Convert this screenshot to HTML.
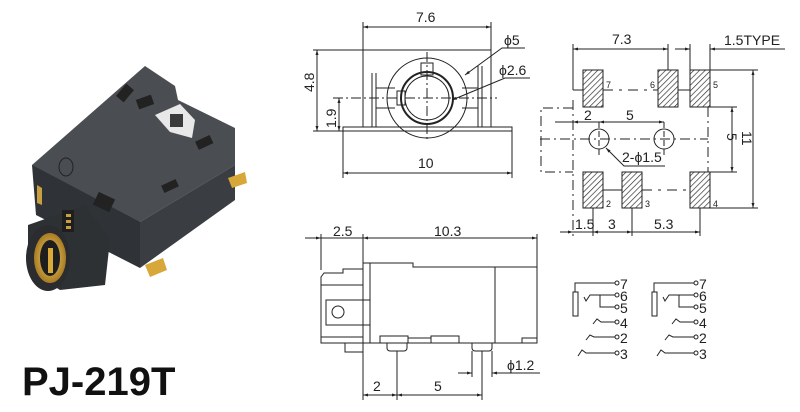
<!DOCTYPE html>
<html><head><meta charset="utf-8"><style>
html,body{margin:0;padding:0;background:#fff;width:800px;height:412px;overflow:hidden}
svg{display:block}
text{font-family:"Liberation Sans",sans-serif;fill:#222}
</style></head><body>
<svg width="800" height="412" viewBox="0 0 800 412" xmlns="http://www.w3.org/2000/svg">
<defs>
<marker id="a" viewBox="0 0 10 10" refX="10" refY="5" markerWidth="7" markerHeight="5" orient="auto-start-reverse"><path d="M0,2 L10,5 L0,8 z" fill="#222"/></marker>
<pattern id="h" width="4" height="4" patternUnits="userSpaceOnUse" patternTransform="rotate(45)"><rect width="4" height="4" fill="#fff"/><line x1="0" y1="0" x2="0" y2="4" stroke="#333" stroke-width="1.4"/></pattern>
<radialGradient id="g" cx="0.5" cy="0.5" r="0.6"><stop offset="0" stop-color="#f3d27a"/><stop offset="1" stop-color="#9a6a10"/></radialGradient>
</defs>

<!-- PHOTO -->
<g>
<polygon points="32,165 145,66 175,86 178,100 235,128 235,165 140,222 45,205" fill="#4a4d52"/>
<polygon points="32,165 140,222 140,268 36,215" fill="#2f3236"/>
<polygon points="140,222 235,165 235,200 140,268" fill="#3a3d41"/>
<polygon points="155,115 180,104 195,120 192,138 170,132" fill="#e8e8e8"/>
<rect x="170" y="114" width="13" height="13" fill="#3a3a3a"/>
<rect x="120" y="85" width="10" height="16" fill="#222" transform="rotate(40 125 93)"/>
<rect x="137" y="97" width="16" height="10" fill="#222" transform="rotate(-20 145 102)"/>
<rect x="196" y="138" width="16" height="9" fill="#222" transform="rotate(-25 204 142)"/>
<rect x="162" y="182" width="16" height="8" fill="#222" transform="rotate(-25 170 186)"/>
<rect x="95" y="195" width="18" height="14" fill="#222" transform="rotate(25 104 202)"/>
<ellipse cx="66" cy="167" rx="7" ry="9" fill="none" stroke="#222"/>
<polygon points="28,225 85,205 110,240 105,285 60,290 28,270" fill="#2e3134"/>
<ellipse cx="48" cy="258" rx="22" ry="33" fill="#2a2c2f"/>
<ellipse cx="50" cy="258" rx="16" ry="25" fill="url(#g)"/>
<ellipse cx="50" cy="258" rx="10" ry="18" fill="#1e1e1e"/>
<rect x="48" y="248" width="5" height="25" fill="#d9a93a"/>
<rect x="62" y="210" width="12" height="22" fill="#1e1e1e"/>
<rect x="66" y="214" width="5" height="3" fill="#c9a040"/><rect x="66" y="220" width="5" height="3" fill="#c9a040"/><rect x="66" y="226" width="5" height="3" fill="#c9a040"/>
<polygon points="228,178 245,172 247,183 232,188" fill="#d8a73a"/>
<polygon points="145,265 163,258 167,270 150,277" fill="#d8a73a"/>
<polygon points="37,185 42,188 42,205 37,203" fill="#c9a040"/>
</g>
<text x="22" y="395" font-size="40" font-weight="bold" fill="#111" style="fill:#111">PJ-219T</text>

<g stroke="#222" stroke-width="1" fill="none">
<!-- FRONT VIEW -->
<line x1="363" y1="22" x2="363" y2="50"/><line x1="491" y1="22" x2="491" y2="50"/>
<line x1="363" y1="27" x2="491" y2="27" marker-start="url(#a)" marker-end="url(#a)"/>
<rect x="363" y="50" width="128" height="77"/>
<rect x="343" y="127" width="169" height="4"/>
<line x1="372" y1="73" x2="372" y2="127"/><line x1="376" y1="73" x2="376" y2="127"/>
<line x1="482" y1="66" x2="482" y2="127"/><line x1="478" y1="66" x2="478" y2="127"/>
<line x1="376" y1="88" x2="395" y2="88"/><line x1="376" y1="108" x2="395" y2="108"/>
<line x1="462" y1="88" x2="478" y2="88"/><line x1="462" y1="108" x2="478" y2="108"/>
<circle cx="427" cy="98" r="40"/>
<circle cx="427" cy="98" r="26" stroke-width="2"/>
<circle cx="427" cy="98" r="22"/>
<rect x="397" y="91" width="8" height="14"/>
<rect x="421" y="63" width="12" height="12"/>
<line x1="333" y1="98" x2="497" y2="98" stroke-dasharray="10,3,2,3"/>
<line x1="427" y1="52" x2="427" y2="140" stroke-dasharray="10,3,2,3"/>
<line x1="313" y1="50" x2="363" y2="50"/><line x1="313" y1="131" x2="343" y2="131"/>
<line x1="317" y1="50" x2="317" y2="131" marker-start="url(#a)" marker-end="url(#a)"/>
<line x1="339" y1="98" x2="339" y2="131" marker-start="url(#a)" marker-end="url(#a)"/>
<line x1="343" y1="131" x2="343" y2="178"/><line x1="512" y1="131" x2="512" y2="178"/>
<line x1="343" y1="173" x2="512" y2="173" marker-start="url(#a)" marker-end="url(#a)"/>
<polyline points="465,75 502,48 525,48" marker-start="url(#a)"/>
<polyline points="452,100 505,78 530,78" marker-start="url(#a)"/>

<!-- TOP VIEW -->
<rect x="583" y="70" width="20" height="37" fill="url(#h)"/>
<rect x="658" y="70" width="20" height="37" fill="url(#h)"/>
<rect x="690" y="70" width="20" height="37" fill="url(#h)"/>
<rect x="583" y="172" width="20" height="36" fill="url(#h)"/>
<rect x="622" y="172" width="20" height="36" fill="url(#h)"/>
<rect x="690" y="172" width="20" height="36" fill="url(#h)"/>
<line x1="573" y1="90" x2="583" y2="90"/><line x1="603" y1="90" x2="658" y2="90" stroke-dasharray="10,6,3,6"/><line x1="678" y1="90" x2="690" y2="90"/>
<line x1="603" y1="190" x2="622" y2="190"/><line x1="642" y1="190" x2="690" y2="190" stroke-dasharray="10,6,3,6"/>
<circle cx="599" cy="139" r="10"/><circle cx="664" cy="139" r="10"/>
<line x1="540" y1="139" x2="708" y2="139" stroke-dasharray="10,4,2,4"/>
<line x1="599" y1="122" x2="599" y2="157" stroke-dasharray="6,3"/><line x1="664" y1="122" x2="664" y2="157" stroke-dasharray="6,3"/>
<polyline points="573,108 541,108 541,172 573,172" stroke-dasharray="10,4,2,4"/>
<line x1="573" y1="100" x2="573" y2="236" stroke-dasharray="10,4,2,4"/>
<line x1="708" y1="107" x2="708" y2="172" stroke-dasharray="10,4,2,4"/>
<line x1="573" y1="44" x2="573" y2="90"/><line x1="668" y1="44" x2="668" y2="70"/>
<line x1="573" y1="49" x2="668" y2="49" marker-start="url(#a)" marker-end="url(#a)"/>
<line x1="690" y1="44" x2="690" y2="70"/><line x1="710" y1="44" x2="710" y2="70"/>
<line x1="675" y1="49" x2="690" y2="49" marker-end="url(#a)"/>
<line x1="725" y1="49" x2="710" y2="49" marker-end="url(#a)"/><line x1="725" y1="49" x2="785" y2="49"/>
<line x1="710" y1="70" x2="758" y2="70"/><line x1="710" y1="208" x2="758" y2="208"/>
<line x1="753" y1="70" x2="753" y2="208" marker-start="url(#a)" marker-end="url(#a)"/>
<line x1="710" y1="107" x2="737" y2="107"/><line x1="710" y1="172" x2="737" y2="172"/>
<line x1="732" y1="107" x2="732" y2="172" marker-start="url(#a)" marker-end="url(#a)"/>
<line x1="555" y1="122" x2="664" y2="122" marker-end="url(#a)"/>
<line x1="599" y1="122" x2="573" y2="122" marker-end="url(#a)"/>
<line x1="599" y1="122" x2="664" y2="122" marker-start="url(#a)"/>
<polyline points="606,148 624,166 665,166" marker-start="url(#a)"/>
<line x1="593" y1="208" x2="593" y2="236"/><line x1="632" y1="208" x2="632" y2="236"/><line x1="700" y1="208" x2="700" y2="236"/>
<line x1="560" y1="232" x2="573" y2="232" marker-end="url(#a)"/>
<line x1="573" y1="232" x2="700" y2="232"/>
<line x1="593" y1="232" x2="632" y2="232" marker-start="url(#a)" marker-end="url(#a)"/>
<line x1="632" y1="232" x2="700" y2="232" marker-end="url(#a)"/>

<!-- SIDE VIEW -->
<line x1="321" y1="234" x2="321" y2="270"/><line x1="363" y1="234" x2="363" y2="263"/><line x1="537" y1="234" x2="537" y2="267"/>
<line x1="305" y1="238" x2="321" y2="238" marker-end="url(#a)"/>
<line x1="363" y1="238" x2="537" y2="238" marker-start="url(#a)" marker-end="url(#a)"/>
<line x1="321" y1="238" x2="363" y2="238"/>
<polyline points="363,263 413,263 413,267 537,267 537,343 363,343 363,263"/>
<line x1="370" y1="263" x2="370" y2="343"/>
<line x1="495" y1="267" x2="495" y2="343"/>
<polyline points="363,269 343,269 343,273 324,273 321,277 321,343 363,343"/>
<line x1="321" y1="285" x2="363" y2="285"/><line x1="321" y1="337" x2="363" y2="337"/>
<rect x="326" y="300" width="44" height="25"/>
<circle cx="338" cy="312" r="6"/>
<rect x="345" y="343" width="18" height="9"/>
<path d="M387,343 v5 a3,3 0 0 0 3,3 h14 a3,3 0 0 0 3,-3 v-5"/>
<path d="M472,343 v5 a3,3 0 0 0 3,3 h14 a3,3 0 0 0 3,-3 v-5"/>
<rect x="380" y="336" width="28" height="7"/><rect x="431" y="336" width="28" height="7"/>
<line x1="408" y1="338" x2="431" y2="338"/>
<rect x="522" y="338" width="15" height="5"/>
<line x1="363" y1="343" x2="363" y2="400"/><line x1="397" y1="351" x2="397" y2="400"/><line x1="482" y1="351" x2="482" y2="400"/>
<line x1="363" y1="395" x2="397" y2="395" marker-start="url(#a)" marker-end="url(#a)"/>
<line x1="397" y1="395" x2="482" y2="395" marker-start="url(#a)" marker-end="url(#a)"/>
<line x1="472" y1="351" x2="472" y2="377"/><line x1="492" y1="351" x2="492" y2="377"/>
<line x1="458" y1="373" x2="472" y2="373" marker-end="url(#a)"/>
<line x1="506" y1="373" x2="492" y2="373" marker-end="url(#a)"/><line x1="506" y1="373" x2="540" y2="373"/>
</g>

<!-- SCHEMATICS -->
<g id="sch" stroke="#222" stroke-width="1" fill="none">
<rect x="573" y="292" width="5" height="24"/>
<polyline points="575,292 575,283 615,283"/><circle cx="617" cy="283" r="2"/>
<polyline points="584,297 586,301 590,295 615,295"/><circle cx="617" cy="295" r="2"/>
<polyline points="600,295 600,307 615,307"/><circle cx="617" cy="307" r="2"/>
<polyline points="593,324 597,319 601,322 615,322"/><circle cx="617" cy="322" r="2"/>
<polyline points="586,340 590,335 594,337 615,337"/><circle cx="617" cy="337" r="2"/>
<polyline points="578,356 582,350 586,353 615,353"/><circle cx="617" cy="353" r="2"/>
</g>
<use href="#sch" x="79"/>
<g font-size="14">
<text x="620" y="289">7</text><text x="620" y="301">6</text><text x="620" y="313">5</text><text x="620" y="328">4</text><text x="620" y="343">2</text><text x="620" y="359">3</text>
<text x="699" y="289">7</text><text x="699" y="301">6</text><text x="699" y="313">5</text><text x="699" y="328">4</text><text x="699" y="343">2</text><text x="699" y="359">3</text>
</g>

<g font-size="14">
<text x="416" y="22">7.6</text>
<text x="504" y="45">ϕ5</text>
<text x="499" y="75">ϕ2.6</text>
<text x="418" y="168">10</text>
<text transform="translate(314,92) rotate(-90)" x="0" y="0">4.8</text>
<text transform="translate(336,128) rotate(-90)" x="0" y="0">1.9</text>
<text x="612" y="44">7.3</text>
<text x="724" y="45">1.5TYPE</text>
<text x="584" y="120">2</text><text x="626" y="120">5</text>
<text x="622" y="162">2-ϕ1.5</text>
<text transform="translate(727,133) rotate(90)">5</text>
<text transform="translate(742,131) rotate(90)">11</text>
<text x="575" y="229">1.5</text><text x="608" y="229">3</text><text x="654" y="229">5.3</text>
<text x="333" y="236">2.5</text><text x="434" y="236">10.3</text>
<text x="373" y="391">2</text><text x="434" y="391">5</text>
<text x="507" y="370">ϕ1.2</text>
</g>
<g font-size="9">
<text x="606" y="88">7</text><text x="650" y="88">6</text><text x="713" y="88">5</text>
<text x="606" y="207">2</text><text x="645" y="207">3</text><text x="713" y="207">4</text>
</g>
</svg>
</body></html>
